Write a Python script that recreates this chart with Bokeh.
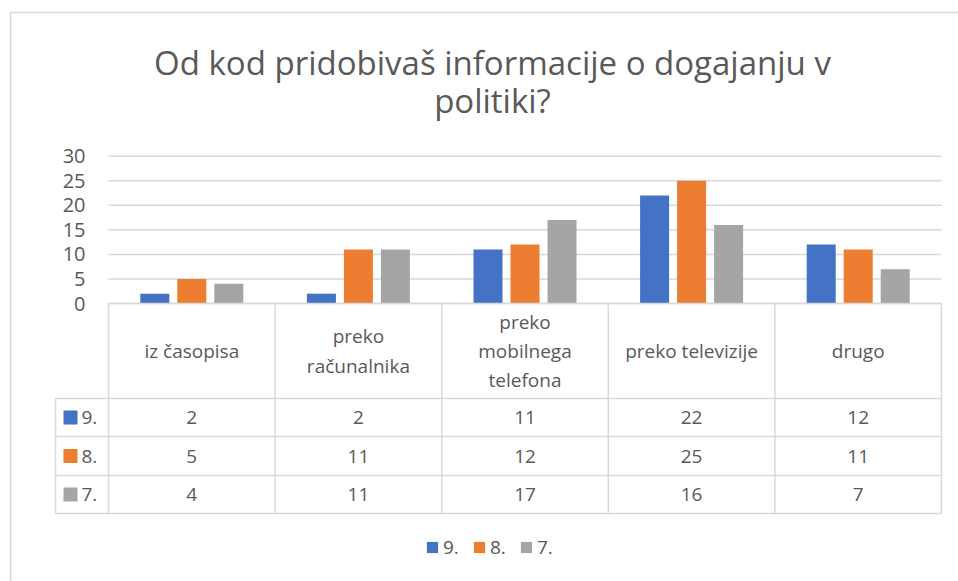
from bokeh.plotting import figure
from bokeh.models import Range1d, LinearAxis, FixedTicker, Legend, LegendItem
from bokeh.core.properties import value
from bokeh.embed import file_html
from bokeh.resources import INLINE

# ---------------- data ----------------
categories = ["iz časopisa", "preko računalnika", "preko mobilnega telefona",
              "preko televizije", "drugo"]
header_labels = ["iz časopisa", "preko\nračunalnika", "preko\nmobilnega\ntelefona",
                 "preko televizije", "drugo"]
series_names = ["9.", "8.", "7."]
values_9 = [2, 2, 11, 22, 12]
values_8 = [5, 11, 12, 25, 11]
values_7 = [4, 11, 17, 16, 7]
y_ticks = [0, 5, 10, 15, 20, 25, 30]
title_text = "Od kod pridobivaš informacije o dogajanju v\npolitiki?"

series_values = [values_9, values_8, values_7]
colors = ["#4472C4", "#ED7D31", "#A5A5A5"]
TEXT = "#595959"
LINE = "#D9D9D9"
FONT = "Open Sans"

# ---------------- layout (page pixels) ----------------
W, H = 958, 581
M = 0
PLOT_L, PLOT_R = 108, 941
Y0_PX, Y30_PX = 303.0, 155.7
HEADER_TOP, HEADER_BOT = 303, 398
ROW_LINES = [398, 436, 475, 513]
LEG_COL_L = 55

n = len(categories)
px_per_cat = (PLOT_R - PLOT_L) / n
x_start = -0.5 - (PLOT_L - M) / px_per_cat
x_end = x_start + W / px_per_cat
px_per_val = (Y0_PX - Y30_PX) / max(y_ticks)
y_end = (Y0_PX - M) / px_per_val
y_start = y_end - H / px_per_val

p = figure(width=W, height=H, x_range=Range1d(x_start, x_end),
           y_range=Range1d(y_start, y_end), output_backend="svg",
           toolbar_location=None, min_border=0, x_axis_location=None,
           y_axis_location=None, outline_line_color=None,
           background_fill_color="white", border_fill_color="white")
p.grid.visible = False
p.extra_x_ranges = {"px": Range1d(M, M + W)}
p.extra_y_ranges = {"px": Range1d(M + H, M)}

# outer chart border (left + top visible)
p.segment(x0=[10, 10], y0=[12, 12], x1=[10, 990], y1=[620, 12],
          x_range_name="px", y_range_name="px", line_color=LINE, line_width=1.5)

# y axis
yaxis = LinearAxis(ticker=FixedTicker(ticks=y_ticks), fixed_location=-0.5,
                   axis_line_color=None, major_tick_line_color=None,
                   minor_tick_line_color=None, major_tick_out=0, major_tick_in=0,
                   major_label_standoff=23,
                   major_label_text_font=FONT, major_label_text_font_size="20px",
                   major_label_text_color=TEXT)
p.add_layout(yaxis, "left")

# gridlines
p.segment(x0=[-0.5] * len(y_ticks), x1=[n - 0.5] * len(y_ticks), y0=y_ticks, y1=y_ticks,
          line_color=LINE, line_width=1.5)

# bars
offsets = [-37 / px_per_cat, 0, 37 / px_per_cat]
bar_w = 29 / px_per_cat
renderers = []
for vals, off, col in zip(series_values, offsets, colors):
    r = p.vbar(x=[i + off for i in range(n)], top=vals, bottom=0, width=bar_w,
               fill_color=col, line_color=None)
    renderers.append(r)

# data table lines
p.segment(x0=[-0.5], x1=[n - 0.5], y0=[HEADER_TOP], y1=[HEADER_TOP],
          y_range_name="px", line_color=LINE, line_width=1.5)
p.segment(x0=[LEG_COL_L] * len(ROW_LINES), x1=[PLOT_R] * len(ROW_LINES),
          y0=ROW_LINES, y1=ROW_LINES, x_range_name="px", y_range_name="px",
          line_color=LINE, line_width=1.5)
p.segment(x0=[k - 0.5 for k in range(n + 1)], x1=[k - 0.5 for k in range(n + 1)],
          y0=[HEADER_TOP] * (n + 1), y1=[ROW_LINES[-1]] * (n + 1),
          y_range_name="px", line_color=LINE, line_width=1.5)
p.segment(x0=[LEG_COL_L], x1=[LEG_COL_L], y0=[ROW_LINES[0]], y1=[ROW_LINES[-1]],
          x_range_name="px", y_range_name="px", line_color=LINE, line_width=1.5)

# header labels
p.text(x=list(range(n)), y=[(HEADER_TOP + HEADER_BOT) / 2] * n, text=header_labels,
       y_range_name="px", text_align="center", text_baseline="middle",
       text_font=value(FONT), text_font_size="19px", text_color=TEXT,
       text_line_height=1.12)

# table values and row keys
row_centers = [(ROW_LINES[j] + ROW_LINES[j + 1]) / 2 for j in range(len(series_names))]
for j, vals in enumerate(series_values):
    p.text(x=list(range(n)), y=[row_centers[j]] * n, text=[str(v) for v in vals],
           y_range_name="px", text_align="center", text_baseline="middle",
           text_font=value(FONT), text_font_size="19px", text_color=TEXT)
p.rect(x=[70] * 3, y=row_centers, width=14, height=14, width_units="screen",
       height_units="screen", fill_color=colors, line_color=None,
       x_range_name="px", y_range_name="px")
p.text(x=[81] * 3, y=row_centers, text=series_names, x_range_name="px",
       y_range_name="px", text_align="left", text_baseline="middle",
       text_font=value(FONT), text_font_size="19px", text_color=TEXT)

# title
p.text(x=[492], y=[81], text=[title_text], x_range_name="px", y_range_name="px",
       text_align="center", text_baseline="middle", text_font=value(FONT),
       text_font_size="33px", text_color=TEXT, text_line_height=0.85)

# legend
legend = Legend(items=[LegendItem(label=s, renderers=[r]) for s, r in zip(series_names, renderers)],
                orientation="horizontal", location=(425, 21), glyph_width=14,
                glyph_height=14, label_height=20, label_standoff=4, spacing=9,
                padding=0, margin=0, border_line_color=None, background_fill_alpha=0,
                label_text_font=FONT, label_text_font_size="19px",
                label_text_color=TEXT)
p.add_layout(legend)

open("out.html", "w").write(file_html(p, INLINE))
